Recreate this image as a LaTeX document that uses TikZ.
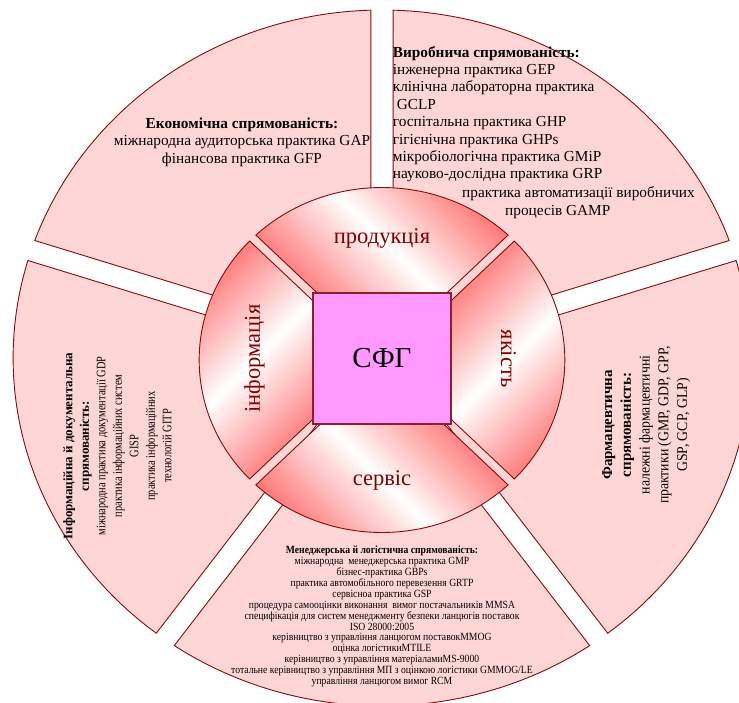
\documentclass[tikz,border=0pt]{standalone}
\usepackage{fontspec}
\setmainfont{Liberation Serif}
\newfontfamily\condfont[FakeStretch=0.8]{Liberation Serif}
\newfontfamily\pharmfont[FakeStretch=0.92]{Liberation Serif}
\newfontfamily\mgmtfont[FakeStretch=0.88]{Liberation Serif}
\definecolor{opink}{RGB}{255,214,214}
\definecolor{bord}{RGB}{135,10,10}
\definecolor{ired}{RGB}{255,64,64}
\definecolor{lab}{RGB}{128,0,0}
\definecolor{sqfill}{RGB}{255,153,255}
\definecolor{sqbord}{RGB}{140,30,50}
\pgfdeclarehorizontalshading{rwr}{100bp}{color(0bp)=(ired); color(25bp)=(ired); color(50bp)=(white); color(75bp)=(ired); color(100bp)=(ired)}
\newcommand\innerseg[5]{%
  \begin{scope}
    \clip (#1:5.94) -- (#2:172.5) arc[start angle=#2, end angle=#3, radius=172.5] -- cycle;
    \shade[shading=rwr, shading angle=#5, shift={(#4)}] (-130pt,-130pt) rectangle (130pt,130pt);
  \end{scope}
  \draw[innerline] (#1:5.94) -- (#2:172.5) arc[start angle=#2, end angle=#3, radius=172.5] -- cycle;}
\begin{document}
\begin{tikzpicture}[x=1.06pt, y=1pt,
  outersec/.style={fill=opink, draw=bord, line width=0.9pt, line join=miter},
  innerline/.style={draw=bord, line width=0.9pt},
  lbl/.style={text=lab, font=\fontsize{22.5}{24}\selectfont, inner sep=0pt},
  blk/.style={inner sep=0pt, align=center, text=black},
  blkl/.style={inner sep=0pt, align=left, text=black}]
\useasboundingbox (-382pt,-344pt) rectangle (357pt,358pt);
\clip (-382pt,-344pt) rectangle (357pt,358pt);
\fill[white] (-382pt,-344pt) rectangle (357pt,358pt);
% outer sectors
\path[outersec] (54:17.86) -- (19.73:348) arc[start angle=19.73, end angle=88.27, radius=348] -- cycle;
\path[outersec] (126:17.86) -- (91.73:348) arc[start angle=91.73, end angle=160.27, radius=348] -- cycle;
\path[outersec] (198:17.86) -- (163.73:348) arc[start angle=163.73, end angle=232.27, radius=348] -- cycle;
\path[outersec] (270:17.86) -- (235.73:348) arc[start angle=235.73, end angle=304.27, radius=348] -- cycle;
\path[outersec] (342:17.86) -- (307.73:348) arc[start angle=307.73, end angle=376.27, radius=348] -- cycle;
% inner ring
\begin{scope}[yshift=-2pt]
\innerseg{90}{46.39}{133.61}{0pt,120pt}{45}
\innerseg{180}{136.39}{223.61}{-128pt,0pt}{135}
\innerseg{270}{226.39}{313.61}{0pt,-120pt}{45}
\innerseg{0}{-43.61}{43.61}{128pt,0pt}{135}
\end{scope}
% centre square
\node[draw=sqbord, fill=sqfill, line width=1.2pt, minimum width=138pt, minimum height=131pt, inner sep=0pt,
  font=\fontsize{29}{30}\selectfont] (sfg) at (0pt,-0.5pt) {СФГ};
% ring labels
\node[lbl, anchor=base] (prod) at (0pt,114.6pt) {продукція};
\node[lbl, anchor=base] (serv) at (0pt,-127pt) {сервіс};
\node[lbl, anchor=base, rotate=90] (inf) at (-122pt,-0.5pt) {інформація};
\node[lbl, anchor=base, rotate=-90] (qual) at (119pt,-0.5pt) {якість};
% economic
\node[blk, anchor=north, font=\fontsize{15.3}{17.4}\selectfont] (econ) at (-140pt,240.3pt)
  {\textbf{Економічна спрямованість:}\\міжнародна аудиторська практика GAP\\фінансова практика GFP};
% production
\node[blkl, anchor=north west, font=\fontsize{15.3}{17.4}\selectfont] (prodt) at (10.7pt,312pt)
  {\textbf{Виробнича спрямованість:}\\інженерна практика GEP\\клінічна лабораторна практика\\\hspace*{4pt}GCLP\\госпітальна практика GHP\\гігієнічна практика GHPs\\мікробіологічна практика GMiP\\науково-дослідна практика GRP};
\node[blkl, anchor=base west, font=\fontsize{15.3}{17.4}\selectfont] (gampa) at (80pt,160.3pt) {практика автоматизації виробничих};
\node[blkl, anchor=base west, font=\fontsize{15.3}{17.4}\selectfont] (gampb) at (123pt,143pt) {процесів GAMP};
% information
\node[blk, rotate=90, anchor=north, font=\fontsize{13}{16.5}\selectfont] (infot) at (-318.8pt,-88pt)
  {\textbf{Інформаційна й документальна}\\\textbf{спрямованість:}\\{\condfont міжнародна практика документації GDP}\\{\condfont практика інформаційних систем}\\{\condfont GISP}\\{\condfont практика інформаційних}\\{\condfont технологій GITP}};
% pharmaceutical
\node[blk, rotate=90, anchor=north, font=\fontsize{15}{18.7}\selectfont] (pharm) at (220.2pt,-67pt)
  {\textbf{Фармацевтична}\\\textbf{спрямованість:}\\{\pharmfont належні фармацевтичні}\\{\pharmfont практики (GMP, GDP, GPP,}\\{\pharmfont GSP, GCP, GLP)}};
% management
\node[blk, anchor=north, font=\fontsize{11}{10.97}\selectfont] (mgmt) at (0pt,-187.4pt)
  {\textbf{\mgmtfont Менеджерська й логістична спрямованість:}\\
   {\mgmtfont міжнародна\ \ менеджерська практика GMP}\\
   {\mgmtfont бізнес-практика GBPs}\\
   {\mgmtfont практика автомобільного перевезення GRTP}\\
   {\mgmtfont сервісноа практика GSP}\\
   {\mgmtfont процедура самооцінки виконання\ \ вимог постачальників MMSA}\\
   {\mgmtfont специфікація для систем менеджменту безпеки ланцюгів поставок}\\
   {\mgmtfont ISO 28000:2005}\\
   {\mgmtfont керівництво з управління ланцюгом поставокMMOG}\\
   {\mgmtfont оцінка логістикиMTILE}\\
   {\mgmtfont керівництво з управління матеріаламиMS-9000}\\
   {\mgmtfont тотальне керівництво з управління МП з оцінкою логістики GMMOG/LE}\\
   {\mgmtfont управління ланцюгом вимог RCM}};
\end{tikzpicture}
\end{document}
